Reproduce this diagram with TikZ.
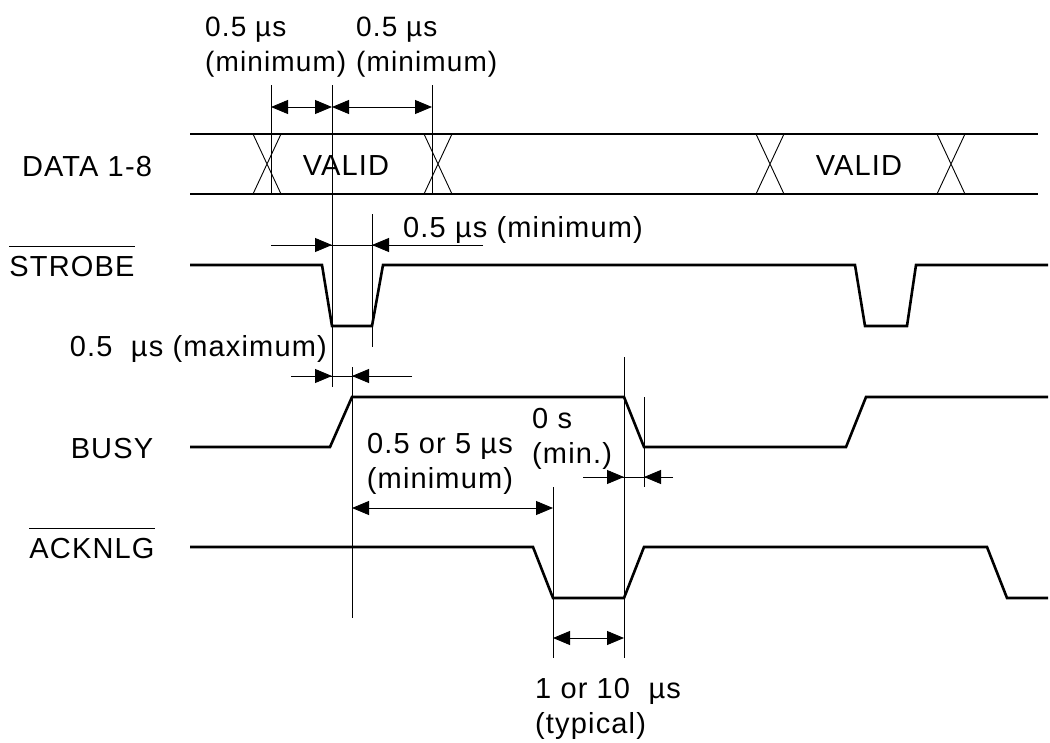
\documentclass[tikz,border=0pt]{standalone}
\usepackage{fontspec}
\setmainfont{Liberation Sans}[LetterSpace=4]
\usetikzlibrary{arrows.meta}
\newcommand{\sigbar}[1]{\vbox{\hrule height 1pt \kern 9pt \hbox{#1}}}

\begin{document}
\begin{tikzpicture}[x = 1pt, y = -1pt,
    sig/.style = {line width = 2.6pt, line join = miter},
    guide/.style = {line width = 0.9pt},
    dimarr/.style = {guide, -{Triangle[length = 17pt, width = 14pt]}},
    dimboth/.style = {guide, {Triangle[length = 17pt, width = 14pt]}-{Triangle[length = 17pt, width = 14pt]}},
    sigl/.style = {anchor = base, inner sep = 0, font = \fontsize{29}{35}\selectfont},
    anno/.style = {anchor = base west, inner sep = 0, align = left,
      font = \fontsize{29}{35}\selectfont},
  ]
  \useasboundingbox (0,0) rectangle (1050,742);

  % signal names
  \node[sigl] (data)   at (87,176)  {DATA 1-8};
  \node[sigl] (strobe) at (72,276)  {\sigbar{STROBE}};
  \node[sigl] (busy)   at (112,458) {BUSY};
  \node[sigl] (acknlg) at (92,558)  {\sigbar{ACKNLG}};

  % data bus
  \draw[sig] (190,134) -- (1038,134) (190,194) -- (1038,194);
  \foreach \c in {267,438,770,951}
    \draw[guide] (\c-14,194) -- (\c+14,134) (\c-14,134) -- (\c+14,194);
  \node[anno, anchor = base] (valid1) at (346,175) {VALID};
  \node[anno, anchor = base] (valid2) at (859,175) {VALID};

  % waveforms
  \draw[sig] (190,265) -- (322,265) -- (332,326) -- (372,326) -- (383,265)
    -- (855,265) -- (865,326) -- (907,326) -- (916,265) -- (1048,265);
  \draw[sig] (190,447) -- (330,447) -- (352,397) -- (624,397) -- (644,447)
    -- (846,447) -- (866,397) -- (1048,397);
  \draw[sig] (190,547) -- (533,547) -- (553,598) -- (624,598) -- (644,547)
    -- (987,547) -- (1007,598) -- (1048,598);

  % guide lines
  \draw[guide] (271,85) -- (271,195) (332,85) -- (332,387) (432,85) -- (432,195)
    (372,214) -- (372,347) (352,367) -- (352,618) (624,357) -- (624,658)
    (644,397) -- (644,487) (553,487) -- (553,658);

  % timing arrows
  \draw[dimboth] (271,107) -- (332,107);
  \draw[dimboth] (332,107) -- (432,107);
  \draw[guide] (271,245) -- (483,245);
  \draw[dimarr] (271,245) -- (332,245);
  \draw[dimarr] (483,245) -- (372,245);
  \draw[guide] (291,376) -- (412,376);
  \draw[dimarr] (291,376) -- (332,376);
  \draw[dimarr] (412,376) -- (352,376);
  \draw[guide] (583,477) -- (673,477);
  \draw[dimarr] (583,477) -- (624,477);
  \draw[dimarr] (673,477) -- (644,477);
  \draw[dimboth] (352,508) -- (553,508);
  \draw[dimboth] (553,638) -- (624,638);

  % timing labels (base = last line)
  \node[anno, font = \fontsize{28}{35}\selectfont] (setup) at (205,71) {0.5 µs\\(minimum)};
  \node[anno, font = \fontsize{28}{35}\selectfont] (hold)  at (356,71) {0.5 µs\\(minimum)};
  \node[anno] (width)  at (403,237) {0.5 µs (minimum)};
  \node[anno, anchor = base east] (delay) at (327,356) {0.5\ \ µs (maximum)};
  \node[anno, align = center, anchor = base] (busyt) at (440,488)
    {0.5 or 5 µs\\(minimum)};
  \node[anno] (zero)   at (532,463) {0 s\\(min.)};
  \node[anno] (ackt)   at (535,733) {1 or 10\ \ µs\\(typical)};
\end{tikzpicture}
\end{document}
